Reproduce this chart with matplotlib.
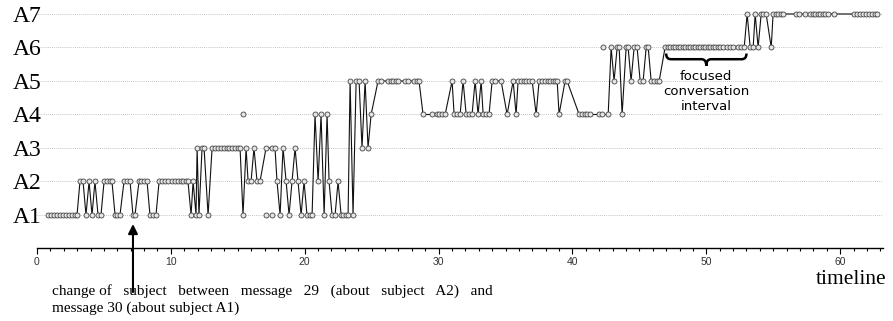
import numpy as np
import matplotlib.pyplot as plt
from matplotlib.path import Path
from matplotlib.patches import PathPatch
from matplotlib.ticker import MultipleLocator

subjects = ['A1', 'A2', 'A3', 'A4', 'A5', 'A6', 'A7']

# consecutive messages on the same subject: level and message times
run_level = [1, 2, 1, 2, 1, 2, 1, 2, 1, 2, 1, 2, 1, 2, 1, 2, 1, 3, 1, 3, 1, 3,
             1, 3, 2, 3, 2, 3, 2, 1, 3, 2, 1, 2, 3, 2, 1, 2, 1, 4, 2, 4, 1, 4,
             2, 1, 2, 1, 5, 1, 5, 3, 5, 3, 4, 5, 4, 5, 4, 5, 4, 5, 4, 5, 4, 5,
             4, 5, 4, 5, 4, 5, 4, 5, 4, 6, 5, 6, 4, 6, 5, 6, 5, 6, 5, 6, 7, 6,
             7, 6, 7, 6, 7]
run_times = [
    [0.82, 1.05, 1.27, 1.49, 1.72, 1.94, 2.17, 2.39, 2.62, 2.84, 2.99],
    [3.21, 3.44], [3.66], [3.89], [4.11], [4.33], [4.56, 4.78],
    [5.01, 5.23, 5.45, 5.60], [5.83, 5.98, 6.20], [6.50, 6.72, 6.95],
    [7.17, 7.32], [7.62, 7.77, 8.00, 8.22], [8.44, 8.67, 8.89],
    [9.12, 9.34, 9.56, 9.79, 10.09, 10.31, 10.54, 10.76, 10.91, 11.13, 11.28],
    [11.51], [11.66], [11.88], [11.96], [12.10], [12.33, 12.48], [12.78],
    [13.08, 13.30, 13.52, 13.75, 13.97, 14.20, 14.35, 14.57, 14.79, 15.02, 15.17],
    [15.39], [15.62], [15.77, 15.99], [16.21], [16.44, 16.66],
    [17.11, 17.56, 17.78], [17.93], [18.16], [18.38], [18.61], [18.83],
    [19.05], [19.28], [19.50], [19.73], [19.95], [20.17, 20.40, 20.55],
    [20.77], [21.00], [21.22], [21.45], [21.67], [21.82], [22.04, 22.27],
    [22.49], [22.72, 22.87, 23.09, 23.24], [23.39], [23.61], [23.84, 24.06],
    [24.28], [24.51], [24.73], [24.96],
    [25.48, 25.70, 26.23, 26.45, 26.60, 26.83, 26.97, 27.50, 27.72, 28.17, 28.39, 28.54],
    [28.84, 29.51, 29.89, 30.04, 30.26, 30.49], [31.01], [31.16, 31.38, 31.61],
    [31.83], [32.06, 32.28, 32.50], [32.73], [32.95], [33.18],
    [33.33, 33.55, 33.77], [34.00, 34.22, 34.67], [35.12], [35.57], [35.79],
    [35.94, 36.17, 36.39, 36.54, 36.76, 36.99], [37.29],
    [37.51, 37.74, 37.96, 38.18, 38.33, 38.56, 38.71, 38.86], [39.00],
    [39.45, 39.60], [40.50, 40.72, 40.95, 41.10, 41.32, 41.99, 42.22, 42.67],
    [42.89], [43.11], [43.34, 43.49], [43.71], [44.01, 44.16], [44.38],
    [44.61, 44.83], [45.06, 45.28], [45.51, 45.66], [45.88, 46.10, 46.33, 46.48],
    [46.92, 47.11, 47.30, 47.48, 47.67, 47.86, 48.04, 48.23, 48.42, 48.60,
     48.79, 48.98, 49.16, 49.35, 49.54, 49.72, 49.91, 50.10, 50.28, 50.47,
     50.66, 50.84, 51.03, 51.22, 51.56, 51.78, 52.01, 52.38, 52.60, 52.83],
    [53.05], [53.28, 53.50], [53.65], [53.87], [54.10, 54.25, 54.47], [54.85],
    [54.99, 55.18, 55.37, 55.55, 55.74, 56.71, 56.94, 57.39, 57.76, 57.95,
     58.14, 58.32, 58.51, 58.70, 58.88, 59.07, 59.51, 61.01, 61.23, 61.46,
     61.68, 61.91, 62.13, 62.35, 62.58, 62.73],
]

# stray messages not on the main thread
extra_times = [15.39, 17.11, 17.56, 42.27]
extra_level = [4, 1, 1, 6]

t = []
lv = []
for l, ts in zip(run_level, run_times):
    t += ts
    lv += [l] * len(ts)

fig = plt.figure(figsize=(8.93, 3.21), dpi=100)
ax = fig.add_axes([37 / 893, 0.2259, 846 / 893, 0.7514])

mk = dict(marker='o', markersize=3.6, markerfacecolor='#e4e4e4',
          markeredgecolor='#444444', markeredgewidth=0.6)
ax.plot(t, lv, color='#111111', lw=0.8, **mk)
ax.plot(extra_times, extra_level, linestyle='none', **mk)

ax.set_xlim(0, 63.2)
ax.set_ylim(0, 7.2)
ax.set_yticks(range(1, 8))
ax.set_yticklabels(subjects, family='Liberation Serif', fontsize=17)
ax.tick_params(axis='y', length=0, pad=-3)
ax.xaxis.set_major_locator(MultipleLocator(10))
ax.xaxis.set_minor_locator(MultipleLocator(1))
ax.tick_params(axis='x', which='major', length=4, width=0.8, labelsize=7.5,
               labelcolor='#333333', pad=2)
ax.tick_params(axis='x', which='minor', length=2, width=0.8)
for lab in ax.get_xticklabels():
    lab.set_family('Liberation Sans')
ax.grid(axis='y', linestyle=(0, (1, 1.5)), color='#b0b0b0', lw=0.6)
ax.set_axisbelow(True)
for s in ['top', 'right', 'left']:
    ax.spines[s].set_visible(False)
ax.spines['bottom'].set_linewidth(1.0)

# brace over the focused interval
x0, x1, xm = 47.0, 53.0, 50.0
yt, ym, yb, dx = 5.82, 5.65, 5.45, 0.35
verts = [(x0, yt), (x0, ym), (x0 + dx, ym), (xm - dx, ym), (xm, ym), (xm, yb),
         (xm, ym), (xm + dx, ym), (x1 - dx, ym), (x1, ym), (x1, yt)]
codes = [Path.MOVETO, Path.CURVE3, Path.CURVE3, Path.LINETO, Path.CURVE3,
         Path.CURVE3, Path.CURVE3, Path.CURVE3, Path.LINETO, Path.CURVE3, Path.CURVE3]
ax.add_patch(PathPatch(Path(verts, codes), fill=False, lw=1.8, color='black'))
ax.text(xm, 4.70, 'focused\nconversation\ninterval', ha='center', va='center',
        fontsize=9.5, family='DejaVu Sans', linespacing=1.2)

ax.annotate('', xy=(7.17, 0.73), xytext=(7.17, -1.30),
            arrowprops=dict(arrowstyle='-|>', color='black', lw=1.5,
                            mutation_scale=14, shrinkA=0, shrinkB=0),
            annotation_clip=False)

fig.text(52 / 893, 1 - 295 / 321,
         'change of   subject   between   message   29   (about   subject   A2)   and',
         family='Liberation Serif', fontsize=11, va='baseline')
fig.text(52 / 893, 1 - 312 / 321, 'message 30 (about subject A1)',
         family='Liberation Serif', fontsize=11, va='baseline')
fig.text(886 / 893, 1 - 284 / 321, 'timeline', family='Liberation Serif',
         fontsize=15.5, ha='right', va='baseline')

fig.savefig('out.png', dpi=100)
